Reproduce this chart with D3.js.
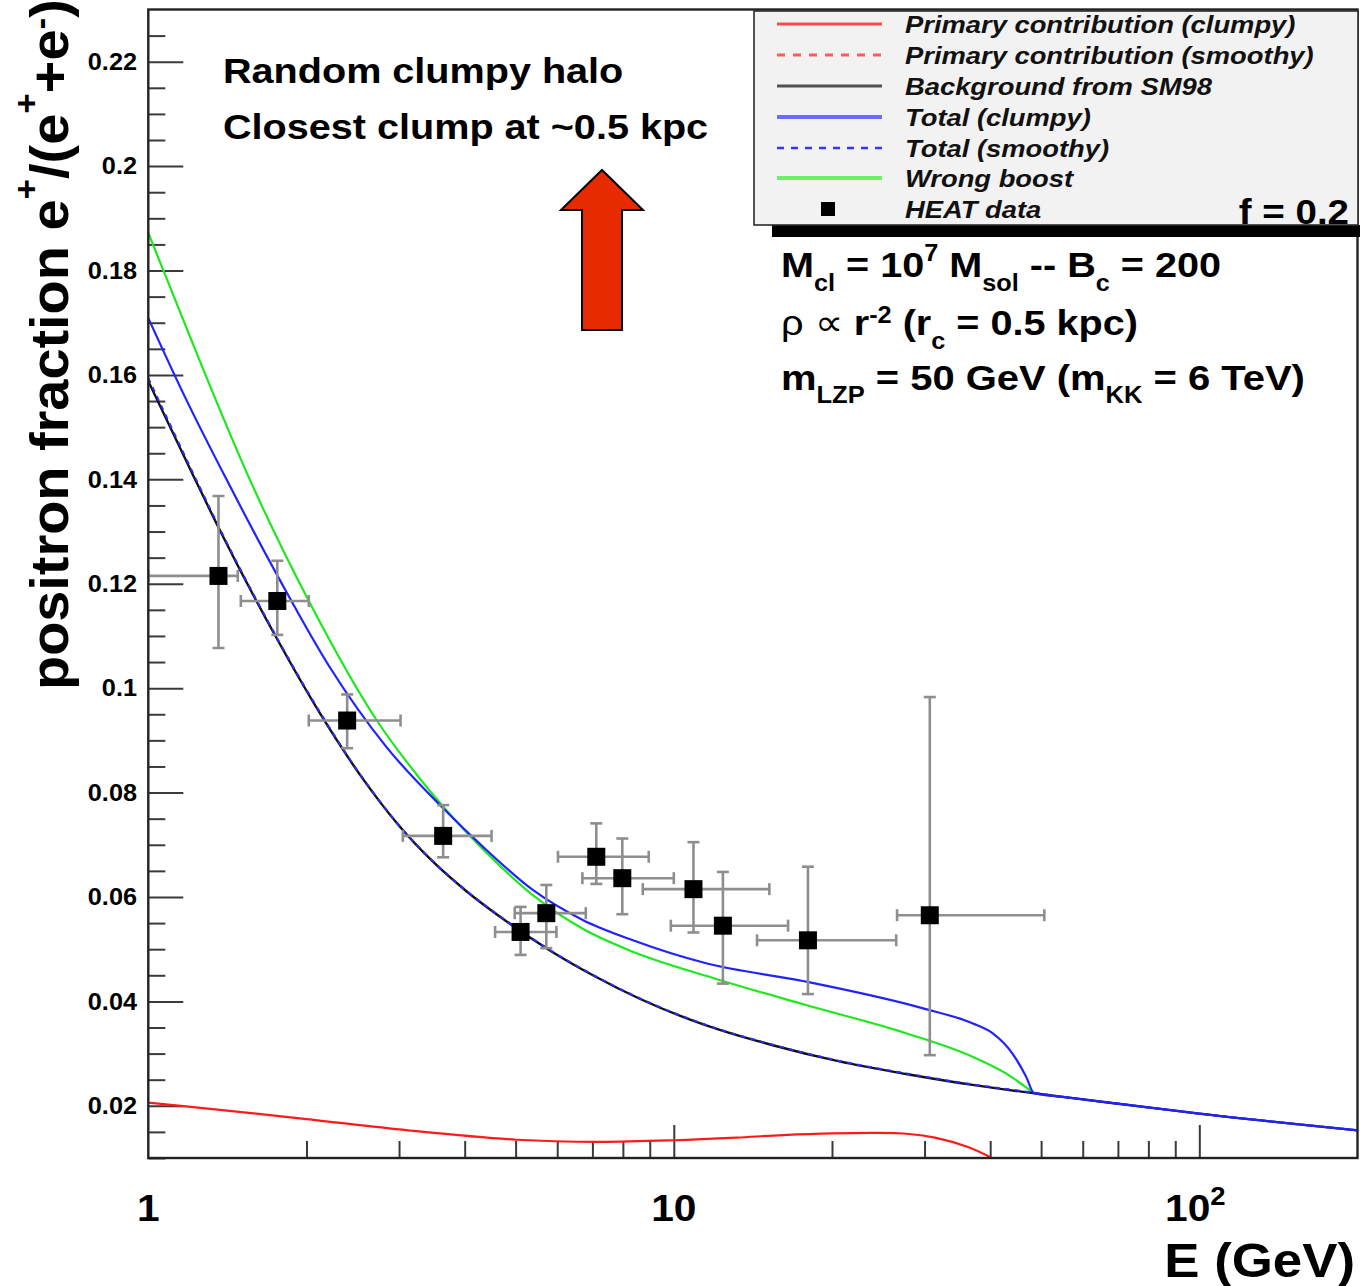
<!DOCTYPE html>
<html>
<head>
<meta charset="utf-8">
<script src="https://cdn.jsdelivr.net/npm/d3@7"></script>
<style>
  html, body { margin: 0; padding: 0; background: #fff; }
  svg { display: block; }
</style>
</head>
<body>
<svg id="chart" width="1360" height="1286"></svg>
<script>
// ---------- HEAT positron fraction measurements ----------
const heatE     = [1.36, 1.76, 2.39, 3.64, 5.11, 5.72, 7.12, 7.98, 10.9, 12.4, 18.0, 30.7];
const heatF     = [0.1215, 0.1167, 0.0938, 0.0717, 0.0533, 0.0569, 0.0677, 0.0636, 0.0615, 0.0545, 0.0517, 0.0565];
const heatELow  = [1.0, 1.50, 2.02, 3.05, 4.57, 4.98, 6.02, 6.70, 8.73, 9.87, 14.4, 26.6];
const heatEHigh = [1.48, 2.02, 3.02, 4.50, 5.98, 6.80, 8.96, 10.0, 15.2, 16.5, 26.5, 50.7];
const heatFLow  = [0.1077, 0.1102, 0.0885, 0.0676, 0.0489, 0.0502, 0.0625, 0.0567, 0.0532, 0.0434, 0.0414, 0.0297];
const heatFHigh = [0.1368, 0.1244, 0.0988, 0.0776, 0.0581, 0.0623, 0.0741, 0.0712, 0.0705, 0.0648, 0.0658, 0.0983];

// ---------- model curves (E in GeV, positron fraction) ----------
const bgE = [1, 1.218, 1.369, 1.754, 2.121, 2.545, 3.009, 3.477, 4.031, 4.87, 5.80, 7.015, 8.61, 11.52, 15.43, 20.65, 27.66, 37.02, 48.5, 55, 70, 100, 200];
const bgF = [0.1588, 0.1407, 0.1302, 0.1096, 0.0952, 0.0830, 0.0735, 0.0668, 0.0611, 0.0549, 0.0498, 0.0450, 0.0405, 0.0354, 0.0316, 0.0285, 0.0261, 0.0240, 0.0224, 0.0217, 0.0204, 0.0185, 0.0153];

const totSmoothE = bgE;
const totSmoothF = [0.1594, 0.1411, 0.1305, 0.1098, 0.0954, 0.0831, 0.0736, 0.0669, 0.0612, 0.0550, 0.0499, 0.0451, 0.0406, 0.0355, 0.0317, 0.0286, 0.0262, 0.0241, 0.0225, 0.0217, 0.0204, 0.0185, 0.0153];

const totClumpyE = [1, 1.174, 1.41, 1.78, 2.215, 2.840, 3.64, 4.335, 5.40, 6.71, 8.36, 11.52, 17.6, 29.7, 37.0, 40.4, 44.1, 46.8, 48.5, 55, 70, 100, 200];
const totClumpyF = [0.1709, 0.1558, 0.1399, 0.1207, 0.1040, 0.0887, 0.0770, 0.0696, 0.0613, 0.0556, 0.0517, 0.0473, 0.0439, 0.0387, 0.0358, 0.0339, 0.0300, 0.0256, 0.0224, 0.0217, 0.0204, 0.0185, 0.0153];

const wrongBoostE = [1, 1.254, 1.561, 2.03, 2.718, 3.285, 4.03, 4.664, 5.40, 6.71, 8.36, 12.04, 17.85, 27.66, 37.0, 42.85, 48.5];
const wrongBoostF = [0.1872, 0.1626, 0.1399, 0.1163, 0.0939, 0.0827, 0.0724, 0.0660, 0.0603, 0.0539, 0.0495, 0.0443, 0.0393, 0.0339, 0.0294, 0.0262, 0.0224];

const primClumpyE = [1, 1.18, 1.98, 3.12, 5.02, 7.19, 10, 13.16, 16.17, 24.26, 28.05, 31.4, 36.3, 40.3];
const primClumpyF = [0.0206, 0.0199, 0.0175, 0.0153, 0.0135, 0.0131, 0.0134, 0.0139, 0.0144, 0.0148, 0.0146, 0.0139, 0.0121, 0.0100];

// ---------- axes ----------
const xMajorTicks = [1, 10, 100];
const xMinorTicks = [2, 3, 4, 5, 6, 7, 8, 9, 20, 30, 40, 50, 60, 70, 80, 90];
const xTickLabels = ["1", "10", "10"];
const xTickSup    = ["", "", "2"];
const yMajorTicks = [0.02, 0.04, 0.06, 0.08, 0.10, 0.12, 0.14, 0.16, 0.18, 0.20, 0.22];
const yTickLabels = ["0.02", "0.04", "0.06", "0.08", "0.1", "0.12", "0.14", "0.16", "0.18", "0.2", "0.22"];
const yMinorTicks = [0.01, 0.015, 0.025, 0.03, 0.035, 0.045, 0.05, 0.055, 0.065, 0.07, 0.075, 0.085, 0.09, 0.095,
                     0.105, 0.11, 0.115, 0.125, 0.13, 0.135, 0.145, 0.15, 0.155, 0.165, 0.17, 0.175,
                     0.185, 0.19, 0.195, 0.205, 0.21, 0.215, 0.225];

const legendLabels = ["Primary contribution (clumpy)", "Primary contribution (smoothy)", "Background from SM98",
                      "Total (clumpy)", "Total (smoothy)", "Wrong boost", "HEAT data"];

// ---------- layout ----------
const FONT = "'Liberation Sans', Arial, Helvetica, sans-serif";
const SX = 1.1;              // horizontal widening of the Helvetica-style glyphs
const X0 = 148.3, X1 = 1357.5, Y0 = 9.5, Y1 = 1158;

const svg = d3.select("#chart");
const x = d3.scaleLog().domain([1, 200]).range([X0, X1]);
const y = d3.scaleLinear().domain([0.01, 0.23]).range([Y1, Y0]);

svg.append("defs").append("clipPath").attr("id", "plotClip")
  .append("rect").attr("x", X0).attr("y", Y0).attr("width", X1 - X0).attr("height", Y1 - Y0);

// text helper: runs of normal / sub / superscript pieces
function richText(parent, tx, ty, runs, opts) {
  const o = Object.assign({ size: 36, weight: "bold", anchor: "start", style: "normal", sx: SX, rotate: 0, fill: "#000" }, opts || {});
  let tr = `translate(${tx},${ty})`;
  if (o.rotate) tr += ` rotate(${o.rotate})`;
  tr += ` scale(${o.sx},1)`;
  const t = parent.append("text")
    .attr("transform", tr)
    .attr("font-family", FONT)
    .attr("font-size", o.size)
    .attr("font-weight", o.weight)
    .attr("font-style", o.style)
    .attr("text-anchor", o.anchor)
    .attr("fill", o.fill);
  let cur = 0;
  runs.forEach(r => {
    if (typeof r === "string") r = { t: r };
    const ts = t.append("tspan").text(r.t).attr("font-size", r.size || o.size);
    const target = r.shift || 0;
    if (target !== cur) ts.attr("dy", target - cur);
    cur = target;
    if (r.weight) ts.attr("font-weight", r.weight);
  });
  return t;
}

// ---------- frame background ----------
svg.append("rect").attr("x", X0).attr("y", Y0).attr("width", X1 - X0).attr("height", Y1 - Y0)
  .attr("fill", "#fff").attr("stroke", "none");

// y ticks (inside, pointing right)
const yAxisMajor = d3.axisLeft(y).tickValues(yMajorTicks).tickSize(-35).tickFormat("");
const yAxisMinor = d3.axisLeft(y).tickValues(yMinorTicks).tickSize(-17).tickFormat("");
[yAxisMajor, yAxisMinor].forEach(ax => {
  const g = svg.append("g").attr("transform", `translate(${X0},0)`).call(ax);
  g.select(".domain").remove();
  g.selectAll("line").attr("stroke", "#3a3a3a").attr("stroke-width", 2);
});

// x ticks (inside, pointing up)
const xAxisMajor = d3.axisBottom(x).tickValues(xMajorTicks.slice(1)).tickSize(-33).tickFormat("");
const xAxisMinor = d3.axisBottom(x).tickValues(xMinorTicks).tickSize(-17).tickFormat("");
[xAxisMajor, xAxisMinor].forEach(ax => {
  const g = svg.append("g").attr("transform", `translate(0,${Y1})`).call(ax);
  g.select(".domain").remove();
  g.selectAll("line").attr("stroke", "#3a3a3a").attr("stroke-width", 2);
});

// y tick labels
yMajorTicks.forEach((v, i) => {
  richText(svg, 137, y(v) + 8.3, [yTickLabels[i]], { size: 23, anchor: "end" });
});
// x tick labels
xMajorTicks.forEach((v, i) => {
  const runs = [xTickLabels[i]];
  if (xTickSup[i]) runs.push({ t: xTickSup[i], size: 25, shift: -16 });
  richText(svg, x(v) - (xTickSup[i] ? 4 : 0), 1221, runs, { size: 37, anchor: "middle" });
});

// ---------- curves ----------
const plot = svg.append("g").attr("clip-path", "url(#plotClip)");
const smoothLine = d3.line().x(d => x(d[0])).y(d => y(d[1])).curve(d3.curveMonotoneX);
const bumpLine = d3.line().x(d => x(d[0])).y(d => y(d[1])).curve(d3.curveCatmullRom.alpha(0.5));
const pairs = (E, F) => E.map((e, i) => [e, F[i]]);

plot.append("path").datum(pairs(primClumpyE, primClumpyF)).attr("d", bumpLine)
  .attr("fill", "none").attr("stroke", "#ff1a1a").attr("stroke-width", 2.2);
plot.append("path").datum(pairs(wrongBoostE, wrongBoostF)).attr("d", smoothLine)
  .attr("fill", "none").attr("stroke", "#1ee81e").attr("stroke-width", 2.2);
plot.append("path").datum(pairs(bgE, bgF)).attr("d", smoothLine)
  .attr("fill", "none").attr("stroke", "#111").attr("stroke-width", 2.4);
plot.append("path").datum(pairs(totSmoothE, totSmoothF)).attr("d", smoothLine)
  .attr("fill", "none").attr("stroke", "#2a2aff").attr("stroke-width", 2).attr("stroke-dasharray", "5,5");
plot.append("path").datum(pairs(totClumpyE, totClumpyF)).attr("d", smoothLine)
  .attr("fill", "none").attr("stroke", "#2222ff").attr("stroke-width", 2.2);

// ---------- HEAT data with error bars ----------
const errColor = "#8e8e8e", cap = 6;
const pts = plot.append("g");
heatE.forEach((e, i) => {
  const cx = x(e), cy = y(heatF[i]);
  const g = pts.append("g").attr("stroke", errColor).attr("stroke-width", 2.6);
  const xl = x(heatELow[i]), xh = x(heatEHigh[i]);
  const yl = y(heatFLow[i]), yh = y(heatFHigh[i]);
  g.append("line").attr("x1", xl).attr("x2", xh).attr("y1", cy).attr("y2", cy);
  g.append("line").attr("x1", xl).attr("x2", xl).attr("y1", cy - cap).attr("y2", cy + cap);
  g.append("line").attr("x1", xh).attr("x2", xh).attr("y1", cy - cap).attr("y2", cy + cap);
  g.append("line").attr("x1", cx).attr("x2", cx).attr("y1", yl).attr("y2", yh);
  g.append("line").attr("x1", cx - cap).attr("x2", cx + cap).attr("y1", yl).attr("y2", yl);
  g.append("line").attr("x1", cx - cap).attr("x2", cx + cap).attr("y1", yh).attr("y2", yh);
});
pts.selectAll("rect.pt").data(heatE).join("rect").attr("class", "pt")
  .attr("x", d => x(d) - 9).attr("y", (d, i) => y(heatF[i]) - 9)
  .attr("width", 18).attr("height", 18).attr("fill", "#000");

// frame border
svg.append("rect").attr("x", X0).attr("y", Y0).attr("width", X1 - X0).attr("height", Y1 - Y0)
  .attr("fill", "none").attr("stroke", "#222").attr("stroke-width", 2.4);

// ---------- annotations ----------
richText(svg, 223, 83, ["Random clumpy halo"], { size: 36 });
richText(svg, 223, 139, ["Closest clump at ~0.5 kpc"], { size: 36 });

// upward arrow
const ax = 602, aTop = 170, aHead = 210, aBot = 330, hw = 41, sw = 20;
svg.append("path")
  .attr("d", `M${ax},${aTop} L${ax + hw},${aHead} L${ax + sw},${aHead} L${ax + sw},${aBot} L${ax - sw},${aBot} L${ax - sw},${aHead} L${ax - hw},${aHead} Z`)
  .attr("fill", "#e82a00").attr("stroke", "#000").attr("stroke-width", 2);

// model parameters
const sub = s => ({ t: s, size: 23, shift: 14 });
const sup = s => ({ t: s, size: 23, shift: -16 });
richText(svg, 781, 277, ["M", sub("cl"), " = 10", sup("7"), " M", sub("sol"), " -- B", sub("c"), " = 200"], { size: 36 });
richText(svg, 781, 335, [{ t: "\u03C1 \u221D ", weight: "normal" }, "r", { t: "-2", size: 23, shift: -12 }, " (r", sub("c"), " = 0.5 kpc)"], { size: 36 });
richText(svg, 781, 390, ["m", { t: "LZP", size: 23, shift: 13 }, " = 50 GeV (m", { t: "KK", size: 23, shift: 13 }, " = 6 TeV)"], { size: 36, sx: 1.11 });

// ---------- legend ----------
svg.append("rect").attr("x", 772).attr("y", 225).attr("width", 600).attr("height", 12).attr("fill", "#000");
svg.append("rect").attr("x", 754).attr("y", 11).attr("width", 604).attr("height", 214)
  .attr("fill", "#f2f2f2").attr("stroke", "#2a2a2a").attr("stroke-width", 1.6);

const legendStyles = [
  { color: "#ff4a4a", width: 3, dash: null },
  { color: "#ff5a5a", width: 3, dash: "8,8" },
  { color: "#505050", width: 3, dash: null },
  { color: "#6c6cff", width: 4, dash: null },
  { color: "#3434ff", width: 2.5, dash: "7,7" },
  { color: "#6cf06c", width: 4, dash: null },
  { marker: true }
];
const rowY = [24, 55, 86, 117, 148, 178, 209];
legendLabels.forEach((lab, i) => {
  const st = legendStyles[i], cy = rowY[i];
  if (st.marker) {
    svg.append("rect").attr("x", 821).attr("y", cy - 7).attr("width", 14).attr("height", 14).attr("fill", "#000");
  } else {
    svg.append("line").attr("x1", 777).attr("x2", 882).attr("y1", cy).attr("y2", cy)
      .attr("stroke", st.color).attr("stroke-width", st.width)
      .attr("stroke-dasharray", st.dash);
  }
  richText(svg, 905, cy + 8.5, [lab], { size: 24, style: "italic", fill: "#111", sx: 1.14 });
});
richText(svg, 1349, 224, ["f = 0.2"], { size: 35, anchor: "end" });

// ---------- axis titles ----------
richText(svg, 1355, 1277, ["E (GeV)"], { size: 48, anchor: "end" });
richText(svg, 68, 690, [
  "positron fraction e", { t: "+", size: 34, shift: -30 }, "/(e", { t: "+", size: 34, shift: -30 },
  "+e", { t: "-", size: 34, shift: -16 }, ")"
], { size: 54, rotate: -90, sx: 1.035 });
</script>
</body>
</html>
